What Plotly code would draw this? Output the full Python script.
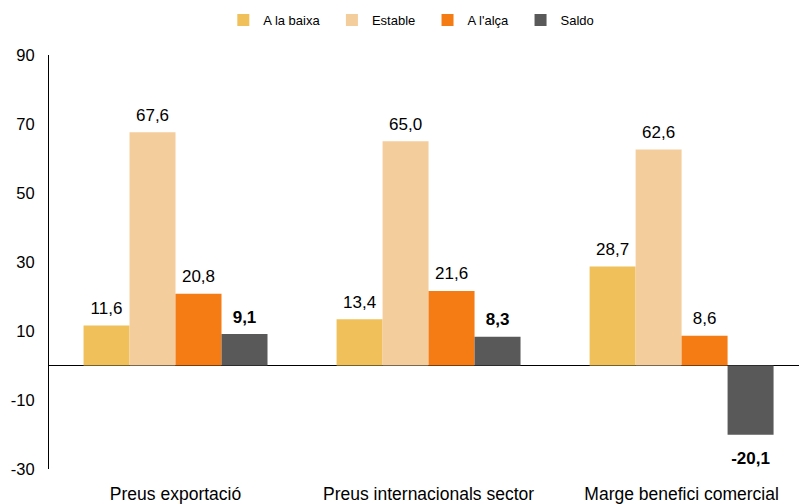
import plotly.graph_objects as go

categories = ["Preus exportació", "Preus internacionals sector", "Marge benefici comercial"]
series_names = ["A la baixa", "Estable", "A l'alça", "Saldo"]
a_la_baixa = [11.6, 13.4, 28.7]
estable = [67.6, 65.0, 62.6]
a_l_alca = [20.8, 21.6, 8.6]
saldo = [9.1, 8.3, -20.1]
y_ticks = [-30, -10, 10, 30, 50, 70, 90]

colors = ["#F0C05A", "#F4CD9D", "#F57C14", "#595959"]
all_values = [a_la_baixa, estable, a_l_alca, saldo]
FONT = "Liberation Sans, Arial, sans-serif"
GAP = 0.273


def fmt(v, bold):
    s = f"{v:.1f}".replace(".", ",")
    return f"<b>{s}</b>" if bold else s


fig = go.Figure()
for i, (name, vals, col) in enumerate(zip(series_names, all_values, colors)):
    fig.add_trace(go.Bar(
        name=name + "\u00a0\u00a0", x=categories, y=vals, offsetgroup=str(i),
        marker=dict(color=col, line=dict(width=0)), hoverinfo="x+y",
    ))
for i, (name, vals) in enumerate(zip(series_names, all_values)):
    bold = name == "Saldo"
    fig.add_trace(go.Scatter(
        x=categories, y=vals, offsetgroup=str(i), mode="markers+text",
        marker=dict(size=[10 if v >= 0 else 25 for v in vals], opacity=0),
        showlegend=False, hoverinfo="skip",
        text=[fmt(v, bold) for v in vals],
        textposition=["top center" if v >= 0 else "bottom center" for v in vals],
        textfont=dict(size=17, color="#000000", family=FONT),
        cliponaxis=False,
    ))

fig.update_layout(
    width=799, height=504,
    barmode="group", bargap=GAP, bargroupgap=0,
    scattermode="group", scattergap=GAP,
    plot_bgcolor="white", paper_bgcolor="white",
    margin=dict(l=49, r=0, t=55, b=35),
    font=dict(family=FONT, size=16, color="#000000"),
    showlegend=True,
    legend=dict(orientation="h", xref="container", x=0.2795, xanchor="left",
                yref="container", y=0.99, yanchor="top",
                font=dict(size=13), itemwidth=30, traceorder="normal"),
)
fig.update_xaxes(range=[-0.5, 2.464], showgrid=False, showline=False, ticks="",
                 tickfont=dict(size=17.5), ticklabelstandoff=12, zeroline=False,
                 automargin=False)
fig.update_yaxes(range=[-30, 90], tickvals=y_ticks, ticktext=[str(v) for v in y_ticks],
                 showgrid=False, showline=True,
                 linecolor="#000000", linewidth=1, ticks="", ticklabelstandoff=10,
                 zeroline=True, zerolinecolor="#000000", zerolinewidth=1,
                 tickfont=dict(size=16.5), automargin=False)

fig.write_html("out.html", config={"displayModeBar": False},
               post_script="document.body.style.margin='0';")
